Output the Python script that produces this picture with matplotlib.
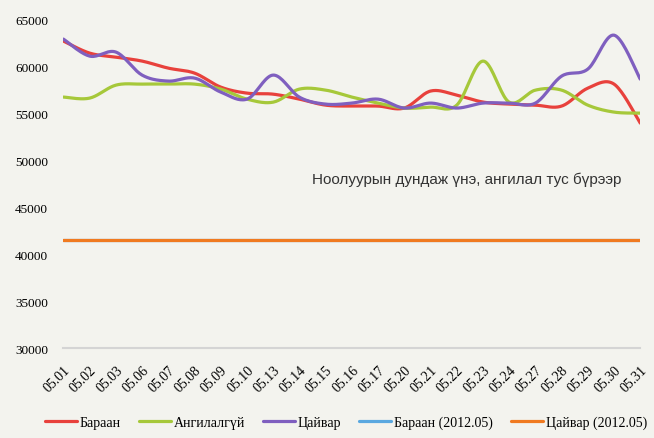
import numpy as np
import matplotlib
matplotlib.use("Agg")
import matplotlib.pyplot as plt

# dates on the category axis
dates = ["05.01", "05.02", "05.03", "05.06", "05.07", "05.08", "05.09", "05.10",
         "05.13", "05.14", "05.15", "05.16", "05.17", "05.20", "05.21", "05.22",
         "05.23", "05.24", "05.27", "05.28", "05.29", "05.30", "05.31"]

baraan = [62670, 61390, 60960, 60540, 59790, 59260, 57770, 57130, 57020, 56490,
          55850, 55750, 55750, 55540, 57350, 56920, 56180, 55960, 55850, 55750,
          57660, 58090, 53940]
angilalgui = [56710, 56600, 57980, 58090, 58090, 58090, 57560, 56490, 56170, 57560,
              57450, 56710, 56070, 55540, 55640, 55850, 60540, 56170, 57450, 57450,
              55850, 55110, 55000]
tsaivar = [62880, 61070, 61500, 59050, 58410, 58730, 57240, 56490, 59050, 56700,
           55960, 56070, 56490, 55540, 56070, 55540, 56070, 56070, 56070, 58940,
           59690, 63300, 58620]
baraan_2012 = [41500] * len(dates)
tsaivar_2012 = [41500] * len(dates)

labels = ["Бараан", "Ангилалгүй", "Цайвар", "Бараан (2012.05)", "Цайвар (2012.05)"]
colors = ["#e8413c", "#a6c83a", "#7f5fbf", "#5aa8e0", "#f07a20"]
bg = "#f3f3ee"


def smooth(y, n=20):
    # catmull-rom style smoothing like Excel's "smoothed line"
    y = np.asarray(y, dtype=float)
    x = np.arange(len(y), dtype=float)
    px = np.concatenate([[x[0]], x, [x[-1]]])
    py = np.concatenate([[y[0]], y, [y[-1]]])
    xs, ys = [], []
    for i in range(1, len(px) - 2):
        t = np.linspace(0, 1, n, endpoint=False)
        for p, out in ((px, xs), (py, ys)):
            p0, p1, p2, p3 = p[i - 1], p[i], p[i + 1], p[i + 2]
            out.append(0.5 * ((2 * p1) + (-p0 + p2) * t
                              + (2 * p0 - 5 * p1 + 4 * p2 - p3) * t ** 2
                              + (-p0 + 3 * p1 - 3 * p2 + p3) * t ** 3))
    xs.append([x[-1]])
    ys.append([y[-1]])
    return np.concatenate(xs), np.concatenate(ys)


fig = plt.figure(figsize=(6.54, 4.39), dpi=100, facecolor=bg)
ax = fig.add_axes([0.097, 0.205, 0.882, 0.749], facecolor=bg)

series = [baraan, angilalgui, tsaivar, baraan_2012, tsaivar_2012]
for vals, lab, col in zip(series, labels, colors):
    sx, sy = smooth(vals)
    ax.plot(sx, sy, color=col, lw=2.3, label=lab, solid_capstyle="round")

ax.set_xlim(0, len(dates) - 1)
ax.set_ylim(30000, 65000)
ax.set_yticks(np.arange(30000, 65001, 5000))
ax.set_yticklabels([str(v) for v in range(30000, 65001, 5000)],
                   family="Liberation Serif", fontsize=9.5)
ax.set_xticks(range(len(dates)))
ax.set_xticklabels(dates, rotation=45, ha="right", rotation_mode="anchor",
                   family="Liberation Serif", fontsize=10)
ax.tick_params(length=0, pad=11)
ax.tick_params(axis="x", pad=11)
for s in ["top", "right", "left"]:
    ax.spines[s].set_visible(False)
ax.spines["bottom"].set_color("#d4d4d4")
ax.spines["bottom"].set_linewidth(1.5)

ax.text(0.477, 0.59, "Ноолуурын дундаж үнэ, ангилал тус бүрээр",
        transform=fig.transFigure, family="Liberation Sans", fontsize=11,
        color="#333333", va="center", ha="left")

fig.legend(loc="center", bbox_to_anchor=(0.529, 0.036), ncol=5, frameon=False,
           prop={"family": "Liberation Serif", "size": 10}, handlelength=2.3,
           handletextpad=0.2, columnspacing=1.3)

fig.savefig("out.png", dpi=100, facecolor=bg)
